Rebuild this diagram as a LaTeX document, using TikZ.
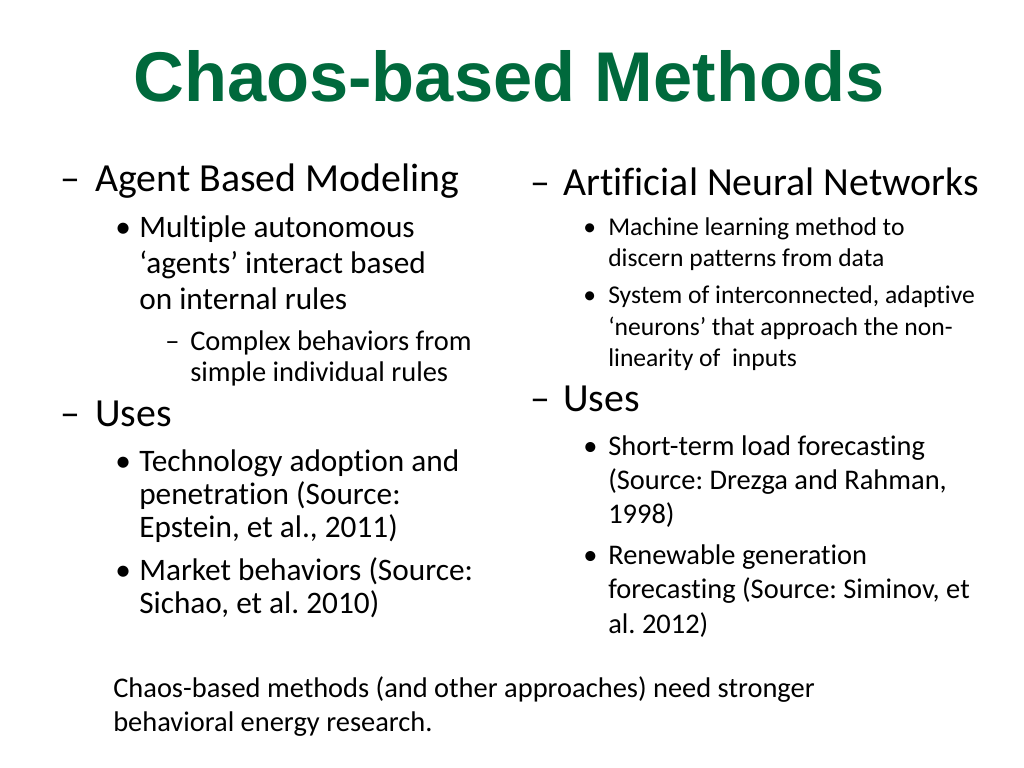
\documentclass[tikz,border=0pt]{standalone}
\usepackage{fontspec}
\setmainfont[Ligatures=CommonOff]{Carlito}
\newfontfamily\titlefont{Liberation Sans}
\definecolor{titlegreen}{HTML}{00693C}
\frenchspacing

\begin{document}
\begin{tikzpicture}[x=0.703125pt, y=-0.703125pt, every node/.style={anchor=base west, inner sep=0pt},
	title/.style={font=\titlefont\bfseries\fontsize{49.5}{54}\selectfont, text=titlegreen},
	lvla/.style={font=\fontsize{28}{32}\selectfont},
	lvlb/.style={font=\fontsize{22}{26}\selectfont},
	lvlc/.style={font=\fontsize{20}{24}\selectfont},
	lvls/.style={font=\fontsize{18}{22}\selectfont}]
	\useasboundingbox (0,0) rectangle (1024,768);
	\node[title] (ttl) at (133,102) {Chaos-based Methods};
	% left column
	\node[lvla] (dA) at (60,192) {--};
	\node[lvla] (abm) at (95,192) {Agent Based Modeling};
	\node[lvlb] (b1) at (115,238) {•};
	\node[lvlb] (ma1) at (139,238) {Multiple autonomous};
	\node[lvlb] (ma2) at (139,274) {‘agents’ interact based};
	\node[lvlb] (ma3) at (139,310) {on internal rules};
	\node[lvlc] (dC) at (165,350) {--};
	\node[lvlc] (cb1) at (190,350) {Complex behaviors from};
	\node[lvlc] (cb2) at (190,381) {simple individual rules};
	\node[lvla] (dU) at (60,426) {--};
	\node[lvla] (usesL) at (95,426) {Uses};
	\node[lvlb] (b2) at (115,471) {•};
	\node[lvlb] (ta1) at (139,471) {Technology adoption and};
	\node[lvlb] (ta2) at (139,504) {penetration (Source:};
	\node[lvlb] (ta3) at (139,537) {Epstein, et al., 2011)};
	\node[lvlb] (b3) at (115,580) {•};
	\node[lvlb] (mb1) at (139,580) {Market behaviors (Source:};
	\node[lvlb] (mb2) at (139,613) {Sichao, et al. 2010)};
	% right column
	\node[lvla] (dN) at (530,196) {--};
	\node[lvla] (ann) at (563,196) {Artificial Neural Networks};
	\node[lvls] (b4) at (583,236) {•};
	\node[lvls] (ml1) at (608,236) {Machine learning method to};
	\node[lvls] (ml2) at (608,267) {discern patterns from data};
	\node[lvls] (b5) at (583,304) {•};
	\node[lvls] (si1) at (608,304) {System of interconnected, adaptive};
	\node[lvls] (si2) at (608,335) {‘neurons’ that approach the non-};
	\node[lvls] (si3) at (608,366) {linearity of~ inputs};
	\node[lvla] (dR) at (530,411) {--};
	\node[lvla] (usesR) at (563,411) {Uses};
	\node[lvlc] (b6) at (583,455) {•};
	\node[lvlc] (sl1) at (608,455) {Short-term load forecasting};
	\node[lvlc] (sl2) at (608,489) {(Source: Drezga and Rahman,};
	\node[lvlc] (sl3) at (608,523) {1998)};
	\node[lvlc] (b7) at (583,564) {•};
	\node[lvlc] (rg1) at (608,564) {Renewable generation};
	\node[lvlc] (rg2) at (608,598) {forecasting (Source: Siminov, et};
	\node[lvlc] (rg3) at (608,633) {al. 2012)};
	% bottom note
	\node[lvlc] (nt1) at (113,697) {Chaos-based methods (and other approaches) need stronger};
	\node[lvlc] (nt2) at (113,731) {behavioral energy research.};
\end{tikzpicture}
\end{document}
